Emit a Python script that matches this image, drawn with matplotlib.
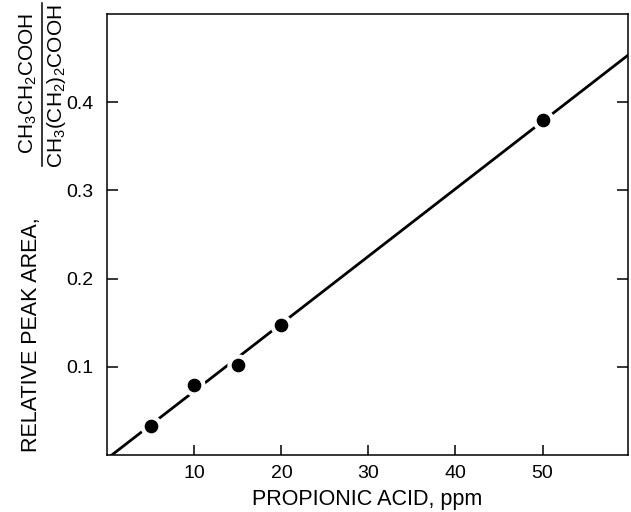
import matplotlib
matplotlib.use('Agg')
import matplotlib.pyplot as plt
from matplotlib.lines import Line2D

plt.rcParams.update({
    'font.family'      : 'Liberation Sans',
    'mathtext.fontset' : 'custom',
    'mathtext.rm'      : 'Liberation Sans',
    'mathtext.it'      : 'Liberation Sans:italic',
    'mathtext.bf'      : 'Liberation Sans:bold',
    'figure.facecolor' : 'white',
    'axes.facecolor'   : 'white',
    'axes.linewidth'   : 1.1,
})

W, H = 631, 512

# data
ppm        = [5, 10, 15, 20, 50]
peak_ratio = [0.033, 0.080, 0.102, 0.147, 0.380]

# fitted calibration line (end points)
fit_x = [0.5, 59.8]
fit_y = [0.0, 0.453]

x_ticks = [10, 20, 30, 40, 50]
y_ticks = [0.1, 0.2, 0.3, 0.4]

fig = plt.figure(figsize=(W / 100, H / 100), dpi=100)
ax = fig.add_axes([0.170, 0.111, 0.825, 0.862])

ax.plot(fit_x, fit_y, color='black', linewidth=2.0, zorder=2)
# white halo to break the line around the points
ax.plot(ppm, peak_ratio, 'o', color='white', markersize=15, zorder=3)
ax.plot(ppm, peak_ratio, 'o', color='black', markersize=8.8, zorder=4)

ax.set_xlim(0, 59.8)
ax.set_ylim(0, 0.5)
ax.set_xticks(x_ticks)
ax.set_xticklabels([str(v) for v in x_ticks])
ax.set_yticks(y_ticks)
ax.set_yticklabels([f'{v:.1f}' for v in y_ticks])

ax.tick_params(axis='x', direction='in', length=7, width=1.1,
               labelsize=14, pad=7, top=False)
ax.tick_params(axis='y', direction='in', length=8, width=1.1,
               labelsize=14, pad=10, right=True)

ax.set_xlabel('PROPIONIC ACID, ppm', fontsize=15.5, labelpad=5)

# y label: plain text part plus a hand-set fraction
def px(x, y):
    return x / W, 1 - y / H

fig.text(*px(31, 452), 'RELATIVE PEAK AREA,', rotation=90, fontsize=15.5,
         ha='left', va='center', rotation_mode='anchor')
fig.text(*px(28, 84), r'$\mathrm{CH_3CH_2COOH}$', rotation=90, fontsize=15,
         ha='center', va='center')
fig.text(*px(56, 86), r'$\mathrm{CH_3(CH_2)_2COOH}$', rotation=90, fontsize=15,
         ha='center', va='center')
fig.add_artist(Line2D([42 / W, 42 / W], [1 - 3 / H, 1 - 166 / H],
                      color='black', linewidth=1.1))

plt.savefig('out.png', dpi=100, facecolor='white')
plt.close()
